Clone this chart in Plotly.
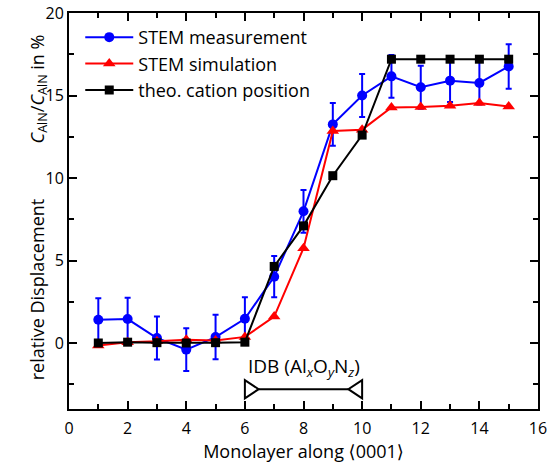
import plotly.graph_objects as go

monolayer = [1, 2, 3, 4, 5, 6, 7, 8, 9, 10, 11, 12, 13, 14, 15]
stem_measurement = [1.41, 1.45, 0.30, -0.40, 0.36, 1.47, 4.02, 7.98, 13.25, 15.0, 16.16, 15.5, 15.9, 15.76, 16.76]
stem_measurement_err = [1.3, 1.3, 1.3, 1.3, 1.35, 1.3, 1.25, 1.3, 1.3, 1.3, 1.3, 1.3, 1.3, 1.3, 1.35]
stem_simulation = [-0.15, 0.05, 0.10, 0.20, 0.15, 0.37, 1.6, 5.75, 12.85, 12.93, 14.28, 14.3, 14.38, 14.55, 14.34]
theo_cation = [0.0, 0.05, 0.02, 0.0, 0.02, 0.05, 4.64, 7.1, 10.14, 12.6, 17.2, 17.2, 17.2, 17.2, 17.2]

series_names = ["STEM measurement", "STEM simulation", "theo. cation position"]
idb_range = [6, 10]
idb_level = -2.8
idb_label = "IDB (Al<sub><i>x</i></sub>O<sub><i>y</i></sub>N<sub><i>z</i></sub>)"

x_range = [0, 16]
y_range = [-4, 20]

FONT = "Open Sans"

fig = go.Figure()
fig.add_trace(go.Scatter(
    x=monolayer, y=stem_measurement, name=series_names[0], mode="lines+markers",
    line=dict(color="#0000ff", width=2),
    marker=dict(symbol="circle", size=10, color="#0000ff"),
    error_y=dict(type="data", array=stem_measurement_err, visible=True,
                 color="#0000ff", thickness=2, width=3),
))
fig.add_trace(go.Scatter(
    x=monolayer, y=stem_simulation, name=series_names[1], mode="lines+markers",
    line=dict(color="#ff0000", width=2),
    marker=dict(symbol="triangle-up", size=11, color="#ff0000"),
))
fig.add_trace(go.Scatter(
    x=monolayer, y=theo_cation, name=series_names[2], mode="lines+markers",
    line=dict(color="#000000", width=2),
    marker=dict(symbol="square", size=9, color="#000000"),
))

# IDB bracket (annotation)
tw = 0.47   # triangle width in x units
th = 0.55   # half-height in y units
x0, x1 = idb_range
fig.add_shape(type="line", x0=x0 + tw, x1=x1 - tw, y0=idb_level, y1=idb_level,
              line=dict(color="black", width=2), xref="x", yref="y")
fig.add_shape(type="path",
              path=f"M {x0} {idb_level - th} L {x0} {idb_level + th} L {x0 + tw} {idb_level} Z",
              line=dict(color="black", width=2), fillcolor="rgba(0,0,0,0)")
fig.add_shape(type="path",
              path=f"M {x1} {idb_level - th} L {x1} {idb_level + th} L {x1 - tw} {idb_level} Z",
              line=dict(color="black", width=2), fillcolor="rgba(0,0,0,0)")
fig.add_annotation(x=(x0 + x1) / 2, y=idb_level + 1.35, text=idb_label, showarrow=False,
                   font=dict(family=FONT, size=19, color="black"), xref="x", yref="y")

# y axis title parts
fig.add_annotation(x=-0.098, y=3.2, xref="paper", yref="y", textangle=-90,
                   text="relative Displacement", showarrow=False,
                   font=dict(family=FONT, size=18, color="black"))
fig.add_annotation(x=-0.098, y=15.4, xref="paper", yref="y", textangle=-90,
                   text="<i>C</i><sub>AlN</sub>/<i>C</i><sub>AlN</sub> in %", showarrow=False,
                   font=dict(family=FONT, size=18, color="black"))

axis_common = dict(
    showline=True, linewidth=2, linecolor="black", mirror="allticks",
    ticks="inside", ticklen=8, tickwidth=1.5, tickcolor="black",
    showgrid=False, zeroline=False, automargin=False,
    tickfont=dict(family=FONT, size=16, color="black"),
)
x_title = ("Monolayer along <span style='font-family:DejaVu Sans'>\u27e8</span>0001"
           "<span style='font-family:DejaVu Sans'>\u27e9</span>")
fig.update_xaxes(range=x_range, dtick=2, tick0=0, ticklabelstandoff=4,
                 minor=dict(dtick=1, ticks="inside", ticklen=5, tickwidth=1.5, tickcolor="black"),
                 title=dict(text=x_title, font=dict(family=FONT, size=18, color="black"),
                            standoff=5),
                 **axis_common)
fig.update_yaxes(range=y_range, dtick=5, tick0=0,
                 minor=dict(dtick=2.5, ticks="inside", ticklen=5, tickwidth=1.5, tickcolor="black"),
                 **axis_common)

fig.update_layout(
    width=559, height=464,
    margin=dict(l=69, r=21, t=13, b=55),
    plot_bgcolor="white", paper_bgcolor="white",
    font=dict(family=FONT, color="black"),
    legend=dict(x=0.024, y=0.985, xanchor="left", yanchor="top",
                bgcolor="rgba(0,0,0,0)", font=dict(family=FONT, size=18, color="black"),
                tracegroupgap=0, itemwidth=48),
    showlegend=True,
)

fig.write_html("out.html", config={"displayModeBar": False})

# remove default page margin so the figure sits at the window's top-left corner
with open("out.html", "r", encoding="utf-8") as f:
    html = f.read()
html = html.replace("<head>", "<head><style>html,body{margin:0;padding:0;}</style>", 1)
with open("out.html", "w", encoding="utf-8") as f:
    f.write(html)
